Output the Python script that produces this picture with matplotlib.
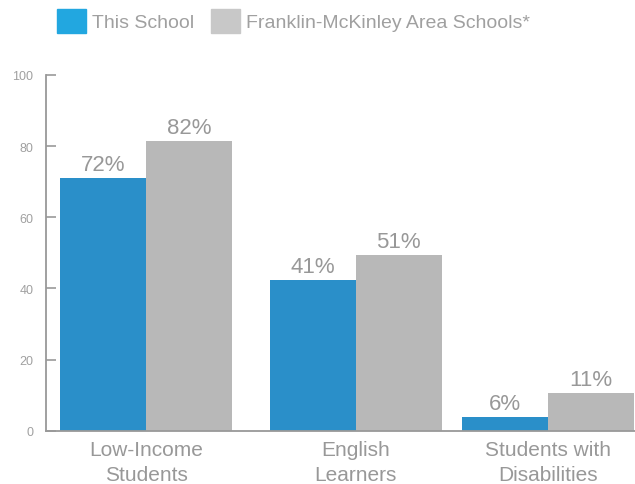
import numpy as np
import matplotlib.pyplot as plt

plt.rcParams['font.family'] = ['Liberation Sans', 'DejaVu Sans']

categories = ['Low-Income\nStudents', 'English\nLearners', 'Students with\nDisabilities']
school = [71.0, 42.4, 3.9]
area = [81.5, 49.5, 10.7]
school_labels = ['72%', '41%', '6%']
area_labels = ['82%', '51%', '11%']
series_names = ['This School', 'Franklin-McKinley Area Schools*']

blue = '#2a8fc9'
grey = '#b8b8b8'
txt = '#989898'

fig = plt.figure(figsize=(6.35, 4.85), dpi=100)
ax = fig.add_axes([46/635, 0.1099, 1 - 46/635, 0.7334])

# group centres (in bar widths), third group sits a little closer
pos = np.array([0, 2.44, 4.67])
w = 1.0
b1 = ax.bar(pos - w/2, school, w, color=blue, label=series_names[0])
b2 = ax.bar(pos + w/2, area, w, color=grey, label=series_names[1])
ax.bar_label(b1, labels=school_labels, padding=2, fontsize=16, color=txt)
ax.bar_label(b2, labels=area_labels, padding=2, fontsize=16, color=txt)

ax.set_xlim(-1.163, 5.686)
ax.set_ylim(0, 100)
ax.set_yticks([0, 20, 40, 60, 80, 100])
ax.set_xticks(pos)
ax.set_xticklabels(categories, fontsize=15, color=txt, linespacing=1.4)
ax.tick_params(axis='x', length=0, pad=7)
ax.tick_params(axis='y', direction='in', length=7, width=1.2, color='#999999',
               labelsize=9, labelcolor='#a0a0a0', pad=9)

for s in ['top', 'right']:
    ax.spines[s].set_visible(False)
for s in ['left', 'bottom']:
    ax.spines[s].set_color('#999999')
    ax.spines[s].set_linewidth(1.3)

# legend handles use brighter swatch colours
h1 = plt.Rectangle((0, 0), 1, 1, color='#22a7e0')
h2 = plt.Rectangle((0, 0), 1, 1, color='#c8c8c8')
leg = fig.legend([h1, h2], series_names, loc='upper left', bbox_to_anchor=(57/635, 1 - 10/485),
                 ncol=2, frameon=False, fontsize=14, handlelength=1.5, handleheight=1.5,
                 handletextpad=0.3, columnspacing=0.85, borderaxespad=0, borderpad=0)
for t in leg.get_texts():
    t.set_color('#a0a0a0')

fig.savefig('out.png', dpi=100)
